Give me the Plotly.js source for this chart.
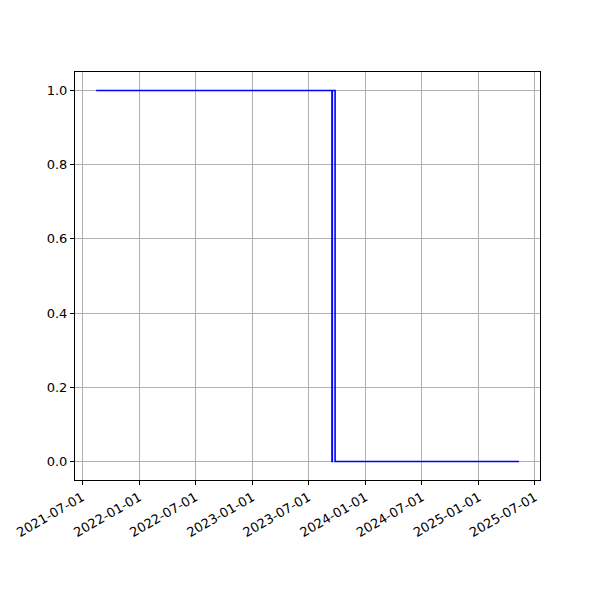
<!DOCTYPE html>
<html>
<head>
<meta charset="utf-8">
<script src="https://cdn.plot.ly/plotly-3.0.1.min.js"></script>
<style>html,body{margin:0;padding:0;background:#fff;}#chart{width:600px;height:600px;}</style>
</head>
<body>
<div id="chart"></div>
<script>
// Step series: value holds until the next date (drawn as 'hv' steps)
const dates  = ['2021-08-15', '2023-09-15', '2023-09-16', '2023-09-25', '2025-05-10'];
const values = [1, 0, 1, 0, 0];
const xTickVals = ['2021-07-01','2022-01-01','2022-07-01','2023-01-01','2023-07-01','2024-01-01','2024-07-01','2025-01-01','2025-07-01'];
const yTickVals = [0.0, 0.2, 0.4, 0.6, 0.8, 1.0];

const t0 = new Date(dates[0]).getTime();
const t1 = new Date(dates[dates.length-1]).getTime();
const pad = (t1 - t0) * 0.05;
const xr = [new Date(t0 - pad).toISOString(), new Date(t1 + pad).toISOString()];

const font = {family: 'DejaVu Sans, sans-serif', size: 13, color: '#000'};
const axisCommon = {
  showline: true, linecolor: '#000', linewidth: 1, mirror: true,
  ticks: 'outside', ticklen: 4, tickwidth: 1, tickcolor: '#000',
  showgrid: true, gridcolor: '#b0b0b0', gridwidth: 1, zeroline: false,
  tickfont: font
};

Plotly.newPlot('chart', [{
  x: dates, y: values, type: 'scatter', mode: 'lines',
  line: {shape: 'hv', color: '#0000ff', width: 1.6}
}], {
  width: 600, height: 600,
  margin: {l: 75, r: 60, t: 72, b: 120},
  paper_bgcolor: '#fff', plot_bgcolor: '#fff',
  showlegend: false,
  font: font,
  xaxis: Object.assign({}, axisCommon, {
    type: 'date', range: xr,
    tickmode: 'array', tickvals: xTickVals, ticktext: xTickVals,
    tickangle: -30
  }),
  yaxis: Object.assign({}, axisCommon, {
    range: [-0.05, 1.05],
    tickmode: 'array', tickvals: yTickVals, ticktext: yTickVals.map(v => v.toFixed(1))
  })
}, {displayModeBar: false, staticPlot: true});
</script>
</body>
</html>
